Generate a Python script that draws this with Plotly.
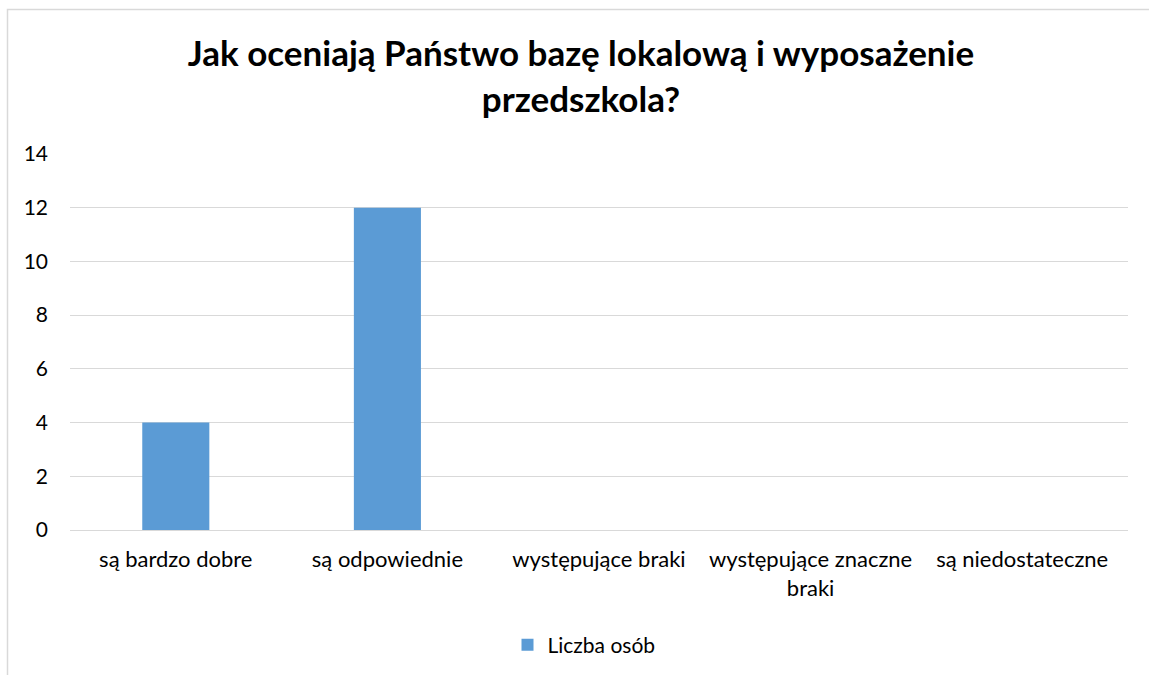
import plotly.graph_objects as go

categories = ["są bardzo dobre", "są odpowiednie", "występujące braki",
              "występujące znaczne<br>braki", "są niedostateczne"]
values = [4, 12, 0, 0, 0]
series_name = "Liczba osób"
y_ticks = [0, 2, 4, 6, 8, 10, 12, 14]

W, H = 1149, 675
L, R, T, B = 70, 1128, 154, 530
FONT = "Lato, 'Open Sans', sans-serif"

def px_x(p):
    return (p - L) / (R - L)

def px_y(p):
    return (B - p) / (B - T)

fig = go.Figure()
fig.add_trace(go.Bar(x=categories, y=values, name=series_name,
                     marker=dict(color="#5B9BD5", line=dict(width=0))))

fig.update_layout(
    width=W, height=H,
    margin=dict(l=L, r=W - R, t=T, b=H - B, autoexpand=False),
    paper_bgcolor="white", plot_bgcolor="white",
    font=dict(family=FONT, color="#000000", size=22),
    title=dict(text="<b>Jak oceniają Państwo bazę lokalową i wyposażenie<br>przedszkola?</b>",
               x=581 / W, xref="container", xanchor="center",
               y=1 - 66 / H, yanchor="top", yref="container",
               font=dict(size=35, family=FONT, color="#000000")),
    bargap=0.683,
    showlegend=True,
    legend=dict(orientation="h", x=px_x(584), xanchor="center",
                y=px_y(645), yanchor="middle", font=dict(size=21),
                itemwidth=30),
    xaxis=dict(showgrid=False, showline=False, ticks="",
               ticklabelstandoff=14,
               tickfont=dict(size=22), automargin=False),
    yaxis=dict(range=[0, 14], tickvals=y_ticks, showgrid=True,
               gridcolor="#D9D9D9", gridwidth=1, zeroline=True,
               zerolinecolor="#D9D9D9", zerolinewidth=1, showline=False,
               ticks="", ticklabelstandoff=21, tickfont=dict(size=21),
               automargin=False),
    shapes=[dict(type="rect", xref="paper", yref="paper",
                 x0=px_x(7.5), x1=px_x(1200), y0=px_y(9.5), y1=px_y(800),
                 line=dict(color="#D9D9D9", width=1.5), layer="below")],
)

fig.write_html("out.html", config={"displayModeBar": False},
               post_script="document.body.style.margin='0';")
